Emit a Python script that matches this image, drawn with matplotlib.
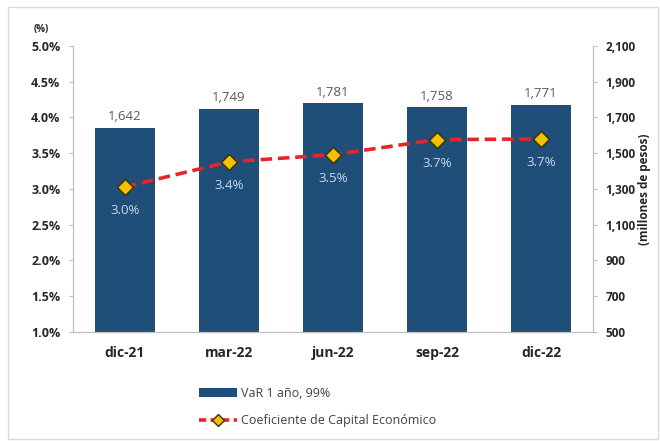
import matplotlib
matplotlib.use("Agg")
import matplotlib.pyplot as plt
from matplotlib.lines import Line2D
from matplotlib.patches import Patch
import numpy as np

categories = ["dic-21", "mar-22", "jun-22", "sep-22", "dic-22"]
var_values = [1642, 1749, 1781, 1758, 1771]
coef_values = [3.03, 3.38, 3.48, 3.69, 3.70]
coef_labels = ["3.0%", "3.4%", "3.5%", "3.7%", "3.7%"]

left_ticks = [1.0, 1.5, 2.0, 2.5, 3.0, 3.5, 4.0, 4.5, 5.0]
right_ticks = [500, 700, 900, 1100, 1300, 1500, 1700, 1900, 2100]

plt.rcParams["font.family"] = ["Open Sans", "DejaVu Sans"]

bar_color = "#1f4e79"
line_color = "#e8242b"
spine_color = "#bfbfbf"
text_color = "#262626"

fig = plt.figure(figsize=(6.6, 4.41), dpi=100)
ax = fig.add_axes([0.1106, 0.2472, 0.7879, 0.6485])
ax2 = ax.twinx()

x = np.arange(len(categories))

# bars on the right-hand scale
ax2.bar(x, var_values, width=0.58, color=bar_color, zorder=1)
ax2.set_ylim(500, 2100)
ax2.set_yticks(right_ticks)
ax2.set_yticklabels([f"{v:,}" for v in right_ticks], fontsize=8.5, fontweight="bold", color=text_color)
for xi, v in zip(x, var_values):
    ax2.text(xi, v + 25, f"{v:,}", ha="center", va="bottom", fontsize=9.5, color="#595959")

# line on the left-hand scale, drawn above the bars
ax.set_zorder(ax2.get_zorder() + 1)
ax.patch.set_visible(False)
ax.plot(x, coef_values, color=line_color, lw=2.6, ls=(0, (3.2, 1.6)), zorder=3)
ax.plot(x, coef_values, ls="none", marker="D", ms=8.5, mfc="#f2c200", mec="#3a3000", mew=1.0, zorder=4)
for xi, v, lab in zip(x, coef_values, coef_labels):
    ax.text(xi, v - 0.24, lab, ha="center", va="top", fontsize=9.5, color="#c6d9f0", zorder=5)

ax.set_ylim(1.0, 5.0)
ax.set_yticks(left_ticks)
ax.set_yticklabels([f"{v:.1f}%" for v in left_ticks], fontsize=9, fontweight="bold", color=text_color)
ax.set_xlim(-0.5, len(categories) - 0.5)
ax.set_xticks(x)
ax.set_xticklabels(categories, fontsize=10, fontweight="bold", color=text_color)

for a in (ax, ax2):
    for s in a.spines.values():
        s.set_color(spine_color)
        s.set_linewidth(0.8)
    a.spines["top"].set_visible(False)
    a.tick_params(axis="x", length=0, pad=10)
ax.tick_params(axis="y", length=3, color=spine_color, pad=6)
ax2.tick_params(axis="y", length=3, color=spine_color, pad=6)

fig.text(0.062, 0.928, "(%)", fontsize=7, fontweight="bold", color=text_color, ha="center")
fig.text(0.976, 0.57, "(millones de pesos)", rotation=90, fontsize=8.5, fontweight="bold",
         color=text_color, ha="center", va="center")

handles = [
    Patch(facecolor=bar_color, edgecolor="none"),
    Line2D([0], [0], color=line_color, lw=2.6, ls=(0, (2, 1.2)), marker="D", ms=6,
           mfc="#f2c200", mec="#3a3000"),
]
fig.legend(handles, ["VaR 1 año, 99%", "Coeficiente de Capital Económico"],
           loc="upper left", bbox_to_anchor=(0.285, 0.148), frameon=False, fontsize=9,
           labelcolor="#404040", handlelength=3.0, handletextpad=0.3, labelspacing=1.15)

# light frame around the whole chart
frame = plt.Rectangle((0.012, 0.005), 0.985, 0.98, transform=fig.transFigure,
                      fill=False, edgecolor="#d9d9d9", lw=1.0)
fig.patches.append(frame)

fig.savefig("out.png", dpi=100)
